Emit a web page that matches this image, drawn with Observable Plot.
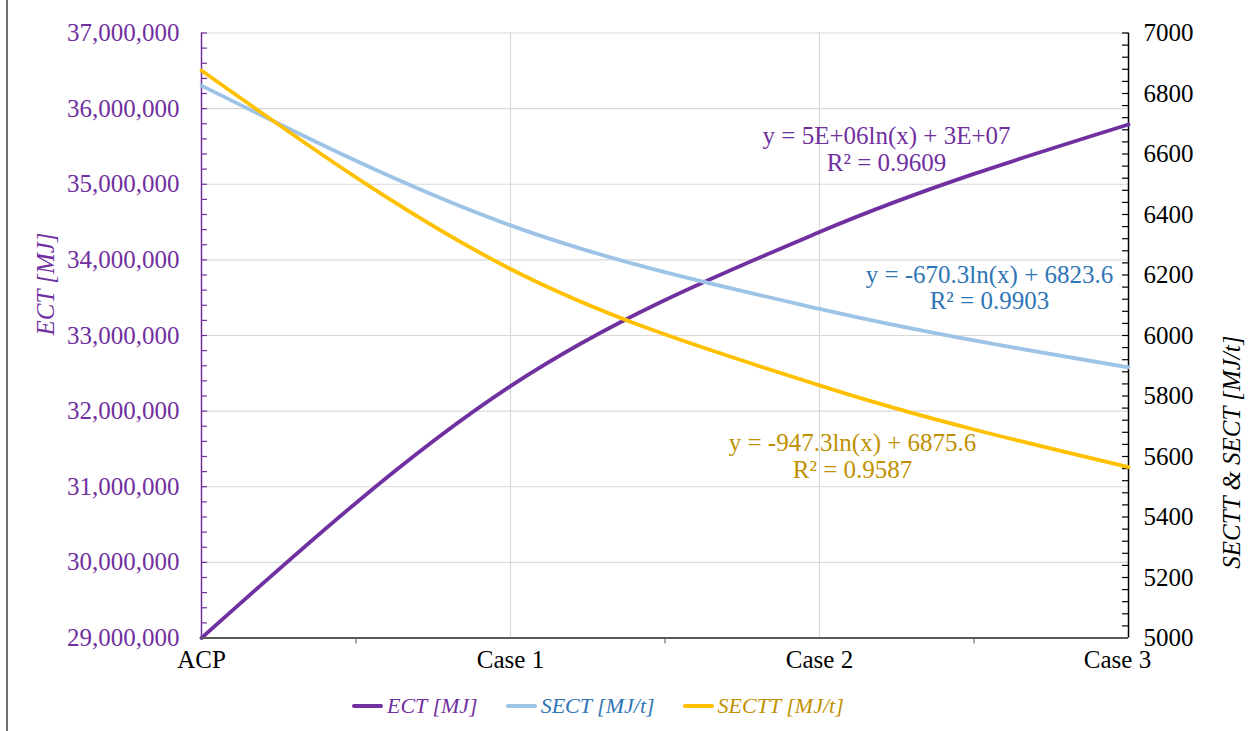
<!DOCTYPE html>
<html>
<head>
<meta charset="utf-8">
<script src="https://cdn.jsdelivr.net/npm/d3@7"></script>
<script src="https://cdn.jsdelivr.net/npm/@observablehq/plot@0.6"></script>
<style>
  html, body { margin: 0; padding: 0; background: #fff; }
  #wrap { position: relative; width: 1254px; height: 731px; overflow: hidden; font-family: "Liberation Serif", "Times New Roman", serif; }
  #frame { position: absolute; left: 6px; top: 0; width: 2px; height: 731px; background: #6f6f6f; }
  #chart { position: absolute; left: 0; top: 0; }
  #legend { position: absolute; left: 352px; top: 680px; height: 51px; display: flex; align-items: center; font-style: italic; font-size: 22px; }
  .item { display: flex; align-items: center; margin-right: 28px; }
  .sw { width: 31px; height: 4px; border-radius: 2px; margin-right: 4px; }
</style>
</head>
<body>
<div id="wrap">
  <div id="frame"></div>
  <div id="chart"></div>
  <div id="legend"></div>
</div>
<script>
// ---- data ----
const categories = ["ACP", "Case 1", "Case 2", "Case 3"];
const ectValues = [29000000, 32330000, 34368000, 35790000];      // ECT [MJ] (left axis)
const sectValues = [6826, 6364, 6088, 5895];                      // SECT [MJ/t] (right axis)
const secttValues = [6876, 6220, 5835, 5565];                     // SECTT [MJ/t] (right axis)
const leftTicks = [29000000, 30000000, 31000000, 32000000, 33000000, 34000000, 35000000, 36000000, 37000000];
const rightTicks = [5000, 5200, 5400, 5600, 5800, 6000, 6200, 6400, 6600, 6800, 7000];
const seriesNames = ["ECT [MJ]", "SECT [MJ/t]", "SECTT [MJ/t]"];
const trendTexts = [
  "y = 5E+06ln(x) + 3E+07\nR² = 0.9609",
  "y = -670.3ln(x) + 6823.6\nR² = 0.9903",
  "y = -947.3ln(x) + 6875.6\nR² = 0.9587"
];
const lineColors = ["#7030A0", "#9DC3E6", "#FFC000"];
const textColors = ["#7030A0", "#2E75B6", "#BF9000"];

// right axis (5000..7000) mapped onto left axis (29M..37M)
const leftMin = 29000000, rightMin = 5000, factor = 4000;
const toLeft = v => leftMin + (v - rightMin) * factor;
const toRight = v => rightMin + (v - leftMin) / factor;

const rows = categories.map((c, i) => ({i, cat: c, ect: ectValues[i], sect: sectValues[i], sectt: secttValues[i]}));

// annotation anchors (x in category index, y in left-axis units)
const trendPos = [
  {x: 2.217, y: 35466000, text: trendTexts[0], color: textColors[0]},
  {x: 2.550, y: toLeft(6159), text: trendTexts[1], color: textColors[1]},
  {x: 2.107, y: toLeft(5603), text: trendTexts[2], color: textColors[2]}
];

const minorLeft = d3.range(29200000, 37000001, 200000);
const minorRight = d3.range(5040, 7001, 40).map(toLeft);

const chart = Plot.plot({
  width: 1254,
  height: 680,
  marginLeft: 201,
  marginRight: 126,
  marginTop: 32.5,
  marginBottom: 42.5,
  style: {fontFamily: "Liberation Serif", fontSize: "25px", background: "transparent", overflow: "visible"},
  x: {type: "linear", domain: [0, 3]},
  y: {domain: [29000000, 37000000]},
  marks: [
    // gridlines
    Plot.ruleY(leftTicks.slice(1), {stroke: "#d9d9d9", strokeWidth: 1.2}),
    Plot.ruleX([1, 2], {stroke: "#d9d9d9", strokeWidth: 1.2}),
    // axis lines
    Plot.ruleX([0], {stroke: "#7030A0", strokeWidth: 1.5}),
    Plot.ruleX([3], {stroke: "#000", strokeWidth: 1.5}),
    Plot.ruleY(minorLeft, {x1: 0, x2: 0, insetRight: -6, stroke: "#7030A0", strokeWidth: 1.2}),
    Plot.ruleY(minorRight, {x1: 3, x2: 3, insetLeft: -6, stroke: "#000", strokeWidth: 1.2}),
    // axes
    Plot.axisY({anchor: "left", ticks: leftTicks, tickFormat: d3.format(","), tickSize: 0, tickPadding: 22, fill: "#7030A0", fontSize: 25, label: null}),
    Plot.axisY({anchor: "right", ticks: rightTicks.map(toLeft), tickFormat: v => String(Math.round(toRight(v))), tickSize: 0, tickPadding: 15, fill: "#000", fontSize: 25, label: null}),
    Plot.axisX({ticks: [0.5, 1.5, 2.5], tickFormat: () => "", tickSize: 6, stroke: "#595959", label: null}),
    Plot.axisX({ticks: [0, 1, 2], tickFormat: i => categories[i], tickSize: 0, tickPadding: 12, fill: "#000", fontSize: 25, label: null}),
    Plot.axisX({ticks: [3], tickFormat: i => categories[i], tickSize: 0, tickPadding: 12, dx: -11, fill: "#000", fontSize: 25, label: null}),
    // axis titles
    Plot.text([seriesNames[0]], {frameAnchor: "left", dx: -156, rotate: -90, fill: "#7030A0", fontStyle: "italic", fontSize: 25}),
    Plot.text(["SECTT & SECT [MJ/t]"], {frameAnchor: "right", dx: 103, rotate: -90, fill: "#000", fontStyle: "italic", fontSize: 25}),
    // series
    Plot.line(rows, {x: "i", y: "ect", curve: "monotone-x", stroke: lineColors[0], strokeWidth: 3.8}),
    Plot.line(rows, {x: "i", y: d => toLeft(d.sect), curve: "monotone-x", stroke: lineColors[1], strokeWidth: 3.8}),
    Plot.line(rows, {x: "i", y: d => toLeft(d.sectt), curve: "monotone-x", stroke: lineColors[2], strokeWidth: 3.8}),
    // bottom axis line
    Plot.ruleY([29000000], {stroke: "#595959", strokeWidth: 2}),
    // trendline equations
    Plot.text(trendPos, {x: "x", y: "y", text: "text", fill: "color", fontSize: 25, lineHeight: 1.07, textAnchor: "middle", lineAnchor: "middle"})
  ]
});
document.getElementById("chart").appendChild(chart);

// legend
const legend = document.getElementById("legend");
seriesNames.forEach((name, k) => {
  const item = document.createElement("div");
  item.className = "item";
  const sw = document.createElement("div");
  sw.className = "sw";
  sw.style.background = lineColors[k];
  const lab = document.createElement("span");
  lab.textContent = name;
  lab.style.color = textColors[k];
  item.appendChild(sw);
  item.appendChild(lab);
  legend.appendChild(item);
});
</script>
</body>
</html>
